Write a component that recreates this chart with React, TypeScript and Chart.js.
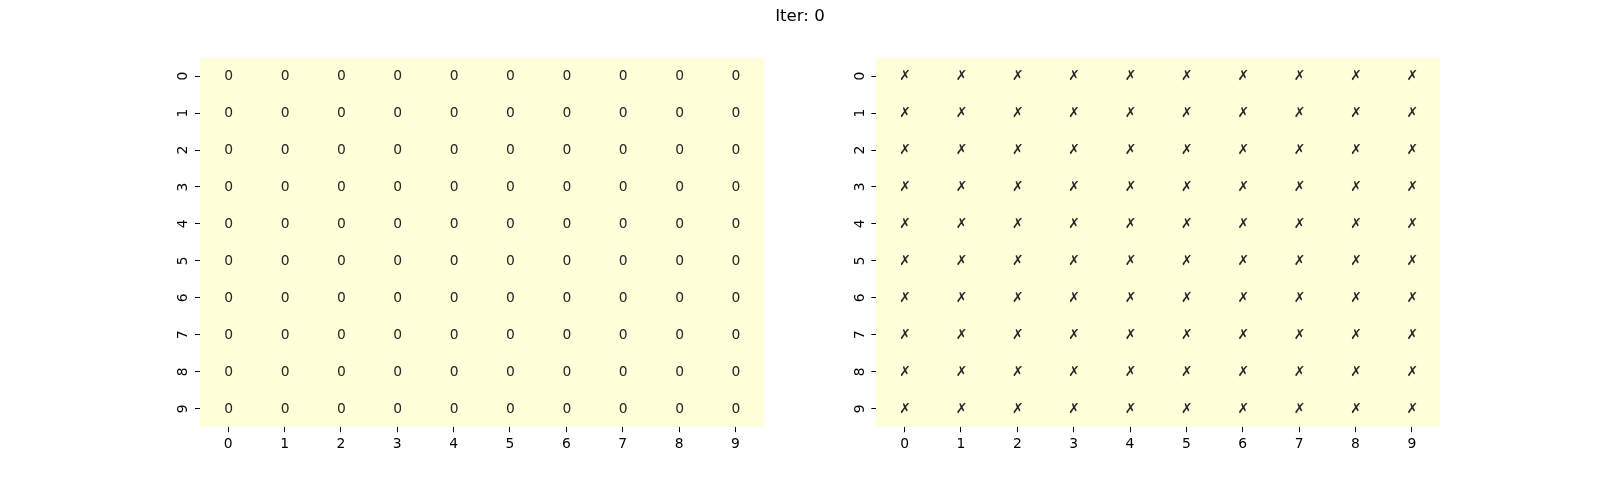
import React, { useEffect, useRef } from 'react';
import { Chart, registerables } from 'chart.js';

Chart.register(...registerables);

const TITLE = 'Iter: 0';
const colLabels = ['0', '1', '2', '3', '4', '5', '6', '7', '8', '9'];
const rowLabels = ['0', '1', '2', '3', '4', '5', '6', '7', '8', '9'];

const leftValues: number[][] = [
  [0, 0, 0, 0, 0, 0, 0, 0, 0, 0],
  [0, 0, 0, 0, 0, 0, 0, 0, 0, 0],
  [0, 0, 0, 0, 0, 0, 0, 0, 0, 0],
  [0, 0, 0, 0, 0, 0, 0, 0, 0, 0],
  [0, 0, 0, 0, 0, 0, 0, 0, 0, 0],
  [0, 0, 0, 0, 0, 0, 0, 0, 0, 0],
  [0, 0, 0, 0, 0, 0, 0, 0, 0, 0],
  [0, 0, 0, 0, 0, 0, 0, 0, 0, 0],
  [0, 0, 0, 0, 0, 0, 0, 0, 0, 0],
  [0, 0, 0, 0, 0, 0, 0, 0, 0, 0],
];

const rightMarks: string[][] = [
  ['✗', '✗', '✗', '✗', '✗', '✗', '✗', '✗', '✗', '✗'],
  ['✗', '✗', '✗', '✗', '✗', '✗', '✗', '✗', '✗', '✗'],
  ['✗', '✗', '✗', '✗', '✗', '✗', '✗', '✗', '✗', '✗'],
  ['✗', '✗', '✗', '✗', '✗', '✗', '✗', '✗', '✗', '✗'],
  ['✗', '✗', '✗', '✗', '✗', '✗', '✗', '✗', '✗', '✗'],
  ['✗', '✗', '✗', '✗', '✗', '✗', '✗', '✗', '✗', '✗'],
  ['✗', '✗', '✗', '✗', '✗', '✗', '✗', '✗', '✗', '✗'],
  ['✗', '✗', '✗', '✗', '✗', '✗', '✗', '✗', '✗', '✗'],
  ['✗', '✗', '✗', '✗', '✗', '✗', '✗', '✗', '✗', '✗'],
  ['✗', '✗', '✗', '✗', '✗', '✗', '✗', '✗', '✗', '✗'],
];

const CELL_COLOR = '#ffffd9';
const ANNOT_COLOR = '#262626';
const AXIS_COLOR = '#000000';
const FONT = 'DejaVu Sans';
const W = 1600;
const H = 480;

Chart.defaults.font.family = FONT;

const heatmapPlugin = {
  id: 'heatmap',
  beforeDatasetsDraw(chart: any) {
    const xs = chart.scales.x;
    const ys = chart.scales.y;
    const ctx = chart.ctx;
    const data = chart.data.datasets[0].data as any[];
    ctx.save();
    ctx.fillStyle = CELL_COLOR;
    for (const p of data) {
      const xi = colLabels.indexOf(p.x);
      const yi = rowLabels.indexOf(p.y);
      const xa = Math.round(xs.getPixelForValue(xi - 0.5));
      const xb = Math.round(xs.getPixelForValue(xi + 0.5));
      const ya = Math.round(ys.getPixelForValue(yi - 0.5));
      const yb = Math.round(ys.getPixelForValue(yi + 0.5));
      ctx.fillRect(Math.min(xa, xb), Math.min(ya, yb), Math.abs(xb - xa), Math.abs(yb - ya));
    }
    ctx.restore();
  },
  afterDatasetsDraw(chart: any) {
    const xs = chart.scales.x;
    const ys = chart.scales.y;
    const ctx = chart.ctx;
    const data = chart.data.datasets[0].data as any[];
    ctx.save();
    ctx.fillStyle = ANNOT_COLOR;
    ctx.font = `13.89px "${FONT}"`;
    ctx.textAlign = 'center';
    ctx.textBaseline = 'middle';
    for (const p of data) {
      const xi = colLabels.indexOf(p.x);
      const yi = rowLabels.indexOf(p.y);
      ctx.fillText(p.t, xs.getPixelForValue(xi) + 0.5, ys.getPixelForValue(yi) + 0.5);
    }
    // rotated y tick labels
    ctx.fillStyle = AXIS_COLOR;
    ctx.textAlign = 'center';
    ctx.textBaseline = 'alphabetic';
    const ticks = ys.getTicks();
    for (let i = 0; i < ticks.length; i++) {
      const y = ys.getPixelForTick(i);
      const label = ys.getLabelForValue(ticks[i].value);
      ctx.save();
      ctx.translate(chart.chartArea.left - 12.7, y);
      ctx.rotate(-Math.PI / 2);
      ctx.fillText(label, 0, 0);
      ctx.restore();
    }
    ctx.restore();
  },
};

function makeCells(texts: string[][]) {
  return rowLabels.flatMap((r, i) => colLabels.map((c, j) => ({ x: c, y: r, t: texts[i][j] })));
}

// leftSpace / rightSpace: room between the canvas edge and the heatmap
function makeConfig(cells: any[], leftSpace: number, rightSpace: number, withTitle: boolean): any {
  return {
    type: 'scatter',
    data: { datasets: [{ data: cells, pointRadius: 0, pointHoverRadius: 0, showLine: false }] },
    options: {
      responsive: false,
      animation: false,
      devicePixelRatio: 1,
      events: [],
      layout: { padding: { left: 0, right: 0, top: withTitle ? 0 : 57.6, bottom: 12.8 } },
      plugins: {
        legend: { display: false },
        tooltip: { enabled: false },
        title: {
          display: withTitle,
          text: TITLE,
          color: AXIS_COLOR,
          font: { family: FONT, size: 16.67, weight: 'normal', lineHeight: 1.2 },
          padding: { top: 7, bottom: 30.6 },
        },
      },
      scales: {
        x: {
          type: 'category',
          labels: colLabels,
          offset: true,
          position: 'bottom',
          grid: {
            display: true,
            drawOnChartArea: false,
            drawTicks: true,
            tickLength: 5,
            tickWidth: 1,
            tickColor: AXIS_COLOR,
            offset: false,
          },
          border: { display: false },
          ticks: {
            color: AXIS_COLOR,
            font: { family: FONT, size: 13.89 },
            padding: 4,
            maxRotation: 0,
            minRotation: 0,
            autoSkip: false,
          },
          afterFit: (s: any) => {
            s.height = 40;
          },
        },
        y: {
          type: 'category',
          labels: rowLabels,
          offset: true,
          position: 'left',
          grid: {
            display: true,
            drawOnChartArea: false,
            drawTicks: true,
            tickLength: 5,
            tickWidth: 1,
            tickColor: AXIS_COLOR,
            offset: false,
          },
          border: { display: false },
          ticks: { display: false, autoSkip: false },
          afterFit: (s: any) => {
            s.width = leftSpace;
          },
        },
        yRight: {
          type: 'category',
          labels: rowLabels,
          position: 'right',
          display: true,
          grid: { display: false, drawTicks: false },
          border: { display: false },
          ticks: { display: false },
          afterFit: (s: any) => {
            s.width = rightSpace;
          },
        },
      },
    },
    plugins: [heatmapPlugin],
  };
}

export default function App() {
  const leftRef = useRef<HTMLCanvasElement>(null);
  const rightRef = useRef<HTMLCanvasElement>(null);

  useEffect(() => {
    const leftChart = new Chart(
      leftRef.current!,
      makeConfig(
        makeCells(leftValues.map((row) => row.map((v) => String(v)))),
        200,
        W - 763.6,
        true
      )
    );
    const rightChart = new Chart(rightRef.current!, makeConfig(makeCells(rightMarks), 876.4, 160, false));
    return () => {
      leftChart.destroy();
      rightChart.destroy();
    };
  }, []);

  const canvasStyle: React.CSSProperties = { position: 'absolute', left: 0, top: 0, display: 'block' };
  return (
    <div style={{ position: 'fixed', left: 0, top: 0, width: W, height: H, background: '#ffffff' }}>
      <canvas ref={leftRef} width={W} height={H} style={canvasStyle} />
      <canvas ref={rightRef} width={W} height={H} style={canvasStyle} />
    </div>
  );
}
